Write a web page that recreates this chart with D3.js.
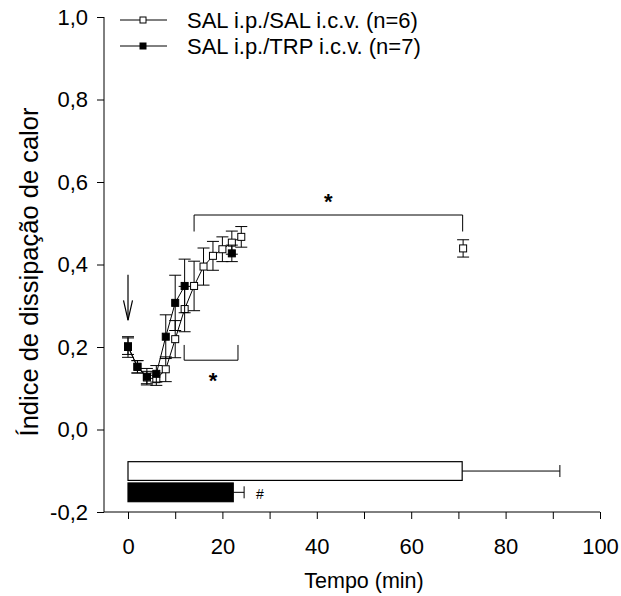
<!DOCTYPE html>
<html>
<head>
<meta charset="utf-8">
<script src="https://cdn.jsdelivr.net/npm/d3@7"></script>
<style>
  body { margin: 0; background: #fff; }
  text { font-family: "Liberation Sans", Arial, sans-serif; fill: #000; }
</style>
</head>
<body>
<div id="chart"></div>
<script>
// time course (min) and heat dissipation index, mean +/- SEM
var salTime = [0, 2, 4, 6, 8, 10, 12, 14, 16, 18, 20, 22, 24, 71];
var salMean = [0.202, 0.152, 0.126, 0.122, 0.146, 0.219, 0.292, 0.348, 0.395, 0.421, 0.437, 0.453, 0.467, 0.439];
var salSem  = [0.02, 0.015, 0.015, 0.015, 0.03, 0.045, 0.055, 0.06, 0.045, 0.035, 0.03, 0.028, 0.025, 0.021];
var salSegment = [0, 0, 0, 0, 0, 0, 0, 0, 0, 0, 0, 0, 0, 1];

var trpTime = [0, 2, 4, 6, 8, 10, 12, 22];
var trpMean = [0.200, 0.152, 0.128, 0.135, 0.225, 0.307, 0.348, 0.427];
var trpSem  = [0.025, 0.015, 0.02, 0.02, 0.053, 0.067, 0.065, 0.02];
var trpSegment = [0, 0, 0, 0, 0, 0, 0, 1];

// latency bars (min)
var latencyGroups = ['SAL', 'TRP'];
var latencyMean = [70.8, 22.3];
var latencySem = [20.7, 2.3];

// significance brackets: [start, end] in min
var brackets = [[14, 70.9], [11.9, 23.3]];

var seriesNames = ['SAL i.p./SAL i.c.v. (n=6)', 'SAL i.p./TRP i.c.v. (n=7)'];
var xTicks = [0, 10, 20, 30, 40, 50, 60, 70, 80, 90, 100];
var yTicks = [-0.2, 0, 0.2, 0.4, 0.6, 0.8, 1.0];

var width = 621, height = 596;
var axisX = 104, axisBottom = 512;

var x = d3.scaleLinear().domain([0, 100]).range([128, 600]);
var y = d3.scaleLinear().domain([-0.2, 1.0]).range([512, 17]);

var svg = d3.select('#chart').append('svg')
    .attr('width', width)
    .attr('height', height);

// axes
var yAxis = svg.append('g')
    .attr('transform', 'translate(' + axisX + ',0)')
    .call(d3.axisLeft(y).tickValues(yTicks).tickSize(7).tickPadding(9)
        .tickFormat(function(d) { return d.toFixed(1).replace('.', ','); }));
yAxis.select('.domain').remove();
yAxis.append('line').attr('x1', 0).attr('x2', 0).attr('y1', y(1.0)).attr('y2', axisBottom)
    .attr('stroke', '#000');

var xAxis = svg.append('g')
    .attr('transform', 'translate(0,' + axisBottom + ')')
    .call(d3.axisBottom(x).tickValues(xTicks).tickSize(7).tickPadding(19)
        .tickFormat(function(d) { return d % 20 === 0 ? d : ''; }));
xAxis.select('.domain').remove();
xAxis.append('line').attr('x1', axisX).attr('x2', x(100)).attr('y1', 0).attr('y2', 0)
    .attr('stroke', '#000');

svg.selectAll('.tick text').style('font-size', '22px').style('font-family', '"Liberation Sans", Arial, sans-serif');

svg.append('text')
    .attr('x', 364).attr('y', 588)
    .attr('text-anchor', 'middle')
    .style('font-size', '21.5px')
    .text('Tempo (min)');

svg.append('text')
    .attr('transform', 'translate(38,272) rotate(-90)')
    .attr('text-anchor', 'middle')
    .style('font-size', '25.5px')
    .text('Índice de dissipação de calor');

// injection arrow
var arrow = svg.append('g').attr('stroke', '#000').attr('fill', 'none').attr('stroke-width', 1.2);
arrow.append('line').attr('x1', x(0)).attr('x2', x(0)).attr('y1', y(0.375)).attr('y2', y(0.265));
arrow.append('path').attr('d', 'M' + (x(0) - 4.5) + ',' + y(0.313) + 'L' + x(0) + ',' + y(0.265) + 'L' + (x(0) + 4.5) + ',' + y(0.313));

function drawSeries(times, means, sems, segs, filled) {
    var pts = times.map(function(t, i) { return { t: t, m: means[i], e: sems[i], s: segs[i] }; });
    var g = svg.append('g');
    var line = d3.line().x(function(d) { return x(d.t); }).y(function(d) { return y(d.m); });
    d3.groups(pts, function(d) { return d.s; }).forEach(function(grp) {
        g.append('path').attr('d', line(grp[1])).attr('fill', 'none').attr('stroke', '#000').attr('stroke-width', 1);
    });
    var cap = 6;
    var eb = g.selectAll('.eb').data(pts).enter().append('g').attr('stroke', '#000').attr('stroke-width', 1);
    eb.append('line').attr('x1', function(d) { return x(d.t); }).attr('x2', function(d) { return x(d.t); })
        .attr('y1', function(d) { return y(d.m - d.e); }).attr('y2', function(d) { return y(d.m + d.e); });
    eb.append('line').attr('x1', function(d) { return x(d.t) - cap; }).attr('x2', function(d) { return x(d.t) + cap; })
        .attr('y1', function(d) { return y(d.m + d.e); }).attr('y2', function(d) { return y(d.m + d.e); });
    eb.append('line').attr('x1', function(d) { return x(d.t) - cap; }).attr('x2', function(d) { return x(d.t) + cap; })
        .attr('y1', function(d) { return y(d.m - d.e); }).attr('y2', function(d) { return y(d.m - d.e); });
    g.selectAll('rect').data(pts).enter().append('rect')
        .attr('x', function(d) { return x(d.t) - 3.5; })
        .attr('y', function(d) { return y(d.m) - 3.5; })
        .attr('width', 7).attr('height', 7)
        .attr('fill', filled ? '#000' : '#fff')
        .attr('stroke', '#000').attr('stroke-width', 1);
}

drawSeries(salTime, salMean, salSem, salSegment, false);
drawSeries(trpTime, trpMean, trpSem, trpSegment, true);

// brackets
var br = svg.append('g').attr('stroke', '#000').attr('fill', 'none').attr('stroke-width', 1);
br.append('path').attr('d', 'M' + x(brackets[0][0]) + ',' + y(0.48) + 'V' + y(0.52) + 'H' + x(brackets[0][1]) + 'V' + y(0.48));
br.append('path').attr('d', 'M' + x(brackets[1][0]) + ',' + y(0.205) + 'V' + y(0.168) + 'H' + x(brackets[1][1]) + 'V' + y(0.205));
svg.append('text').attr('x', x((brackets[0][0] + brackets[0][1]) / 2)).attr('y', y(0.535))
    .attr('text-anchor', 'middle').style('font-size', '22px').style('font-weight', 'bold').text('*');
svg.append('text').attr('x', x((brackets[1][0] + brackets[1][1]) / 2) + 2).attr('y', y(0.1))
    .attr('text-anchor', 'middle').style('font-size', '22px').style('font-weight', 'bold').text('*');

// latency bars
var barY = d3.scaleBand().domain(latencyGroups).range([y(-0.078), y(-0.175)]).paddingInner(0.12);
var bars = svg.append('g');
latencyGroups.forEach(function(g, i) {
    var top = barY(g), h = barY.bandwidth(), mid = top + h / 2;
    bars.append('rect').attr('x', x(0)).attr('y', top)
        .attr('width', x(latencyMean[i]) - x(0)).attr('height', h)
        .attr('fill', i === 0 ? '#fff' : '#000').attr('stroke', '#000').attr('stroke-width', 1.2);
    var end = x(latencyMean[i] + latencySem[i]);
    bars.append('line').attr('x1', x(latencyMean[i])).attr('x2', end).attr('y1', mid).attr('y2', mid).attr('stroke', '#000');
    bars.append('line').attr('x1', end).attr('x2', end).attr('y1', mid - 6).attr('y2', mid + 6).attr('stroke', '#000');
});
svg.append('text').attr('x', x(latencyMean[1] + latencySem[1]) + 12)
    .attr('y', barY('TRP') + barY.bandwidth() / 2 + 7)
    .style('font-size', '14px').text('#');

// legend
var legend = svg.append('g');
seriesNames.forEach(function(name, i) {
    var ly = 20 + i * 26;
    legend.append('line').attr('x1', 120).attr('x2', 167).attr('y1', ly).attr('y2', ly).attr('stroke', '#000');
    legend.append('rect').attr('x', 140).attr('y', ly - 3).attr('width', 6).attr('height', 6)
        .attr('fill', i === 0 ? '#fff' : '#000').attr('stroke', '#000');
    legend.append('text').attr('x', 187).attr('y', ly + 7.5).style('font-size', '22px').text(name);
});
</script>
</body>
</html>
